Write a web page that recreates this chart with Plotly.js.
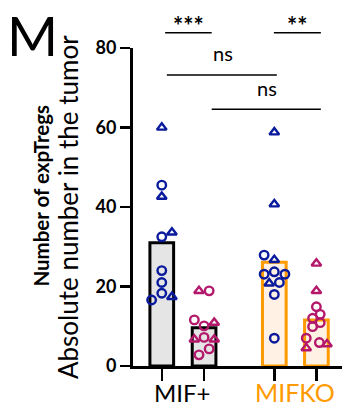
<!DOCTYPE html>
<html>
<head>
<meta charset="utf-8">
<script src="https://cdn.plot.ly/plotly-3.0.1.min.js"></script>
<style>html,body{margin:0;padding:0;background:#fff;}#chart{width:342px;height:410px;}</style>
</head>
<body>
<div id="chart"></div>
<script>
// Group positions on a numeric x axis and labels
const groupPos = [0, 1, 2.66, 3.655];
const groupNames = ["MIF+", "MIFKO"];
// Bar heights (group means)
const barValues = [31.0, 9.6, 26.1, 11.6];

// Individual points: circles and triangles per bar
const g1Circ = [45.5, 32.5, 24.0, 21.0, 18.3, 16.6];
const g1CircJit = [0, 0, 0, 0, 0, -0.24];
const g1Tri = [60.0, 42.6, 33.6, 17.4];
const g1TriJit = [0, 0, 0.24, 0.24];

const g2Circ = [18.9, 11.6, 10.1, 7.2, 4.3, 2.8];
const g2CircJit = [0.12, -0.23, 0, 0, 0.12, -0.12];
const g2Tri = [18.9, 10.9, 6.7, 6.7];
const g2TriJit = [-0.12, 0.24, -0.23, 0.24];

const g3Circ = [27.9, 23.7, 23.1, 23.1, 21.0, 18.0, 7.0];
const g3CircJit = [-0.24, 0, -0.24, 0.25, 0.12, 0, 0];
const g3Tri = [58.8, 40.7, 26.7, 20.8];
const g3TriJit = [0, 0, 0, -0.12];

const g4Circ = [14.9, 13.0, 12.0, 10.9, 9.9, 7.0, 5.9];
const g4CircJit = [0, 0.09, -0.09, 0.09, -0.09, -0.24, 0.07];
const g4Tri = [25.8, 18.9, 4.5, 5.5];
const g4TriJit = [0, 0, -0.24, 0.25];

const yTicks = [0, 20, 40, 60, 80];

const BLUE = "#0a1a9c";
const PINK = "#b3186a";
const ORANGE = "#ff9a00";
const FONT = "Lato, 'Open Sans', sans-serif";

function pts(center, vals, jit, sym, color) {
  return {
    type: "scatter", mode: "markers",
    x: vals.map((v, i) => center + jit[i]), y: vals,
    marker: {symbol: sym, size: 8.5, color: color, line: {color: color, width: 2.4}},
    hoverinfo: "y", showlegend: false, cliponaxis: false
  };
}

const traces = [
  {
    type: "bar", x: groupPos, y: barValues, width: 0.56,
    marker: {
      color: ["#e5e5e5", "#e5e5e5", "#fff1e3", "#fff1e3"],
      line: {color: ["#000000", "#000000", ORANGE, ORANGE], width: 3}
    },
    showlegend: false, hoverinfo: "y"
  },
  pts(groupPos[0], g1Circ, g1CircJit, "circle-open", BLUE),
  pts(groupPos[0], g1Tri, g1TriJit, "triangle-up-open", BLUE),
  pts(groupPos[1], g2Circ, g2CircJit, "circle-open", PINK),
  pts(groupPos[1], g2Tri, g2TriJit, "triangle-up-open", PINK),
  pts(groupPos[2], g3Circ, g3CircJit, "circle-open", BLUE),
  pts(groupPos[2], g3Tri, g3TriJit, "triangle-up-open", BLUE),
  pts(groupPos[3], g4Circ, g4CircJit, "circle-open", PINK),
  pts(groupPos[3], g4Tri, g4TriJit, "triangle-up-open", PINK)
];

function bracket(x0, x1, y) {
  return {type: "line", xref: "x", yref: "paper", x0: x0, x1: x1, y0: y, y1: y,
          line: {color: "#000", width: 1.5}};
}

const layout = {
  width: 342, height: 410,
  margin: {l: 133, r: 0, t: 48, b: 44},
  paper_bgcolor: "#fff", plot_bgcolor: "#fff",
  font: {family: FONT, color: "#000"},
  bargap: 0,
  xaxis: {
    range: [-0.68, 4.26], tickvals: groupPos, ticktext: ["", "", "", ""],
    ticks: "outside", ticklen: 12, tickwidth: 2.5, tickcolor: "#000",
    showline: true, linecolor: "#000", linewidth: 3,
    showgrid: false, zeroline: false, fixedrange: true
  },
  yaxis: {
    range: [0, 80], tickvals: yTicks,
    ticks: "outside", ticklen: 10, tickwidth: 2.5, tickcolor: "#000",
    showline: true, linecolor: "#000", linewidth: 3,
    showgrid: false, zeroline: false,
    tickfont: {family: FONT, size: 18, color: "#000", weight: "bold"},
    fixedrange: true
  },
  shapes: [
    bracket(0.08, 1.18, 1.048),
    bracket(2.65, 3.76, 1.048),
    bracket(0.12, 2.72, 0.915),
    bracket(1.18, 3.76, 0.807)
  ],
  annotations: [
    {text: "M", xref: "paper", yref: "paper", x: -0.483, y: 1.151, showarrow: false,
     font: {family: FONT, size: 55, color: "#000"}, xanchor: "center", yanchor: "top"},
    {text: "***", xref: "x", yref: "paper", x: 0.62, y: 1.07, showarrow: false,
     font: {family: FONT, size: 24, color: "#000", weight: "bold"}, yanchor: "middle"},
    {text: "**", xref: "x", yref: "paper", x: 3.2, y: 1.07, showarrow: false,
     font: {family: FONT, size: 24, color: "#000", weight: "bold"}, yanchor: "middle"},
    {text: "ns", xref: "x", yref: "paper", x: 1.44, y: 0.984, showarrow: false,
     font: {family: FONT, size: 20, color: "#000"}, yanchor: "middle"},
    {text: "ns", xref: "x", yref: "paper", x: 2.48, y: 0.873, showarrow: false,
     font: {family: FONT, size: 20, color: "#000"}, yanchor: "middle"},
    {text: "Number of expTregs", xref: "paper", yref: "paper", x: -0.44, y: 0.536,
     textangle: -90, showarrow: false, xanchor: "center", yanchor: "middle",
     font: {family: FONT, size: 20.5, color: "#000", weight: "bold"}},
    {text: "Absolute number in the tumor", xref: "paper", yref: "paper", x: -0.311, y: 0.5,
     textangle: -90, showarrow: false, xanchor: "center", yanchor: "middle",
     font: {family: FONT, size: 26, color: "#000"}},
    {text: groupNames[0], xref: "x", yref: "paper", x: (groupPos[0] + groupPos[1]) / 2, y: -0.082,
     showarrow: false, xanchor: "center", yanchor: "middle",
     font: {family: FONT, size: 24, color: "#000"}},
    {text: groupNames[1], xref: "x", yref: "paper", x: (groupPos[2] + groupPos[3]) / 2, y: -0.082,
     showarrow: false, xanchor: "center", yanchor: "middle",
     font: {family: FONT, size: 25, color: ORANGE}}
  ]
};

Plotly.newPlot("chart", traces, layout, {displayModeBar: false, staticPlot: true});
</script>
</body>
</html>
